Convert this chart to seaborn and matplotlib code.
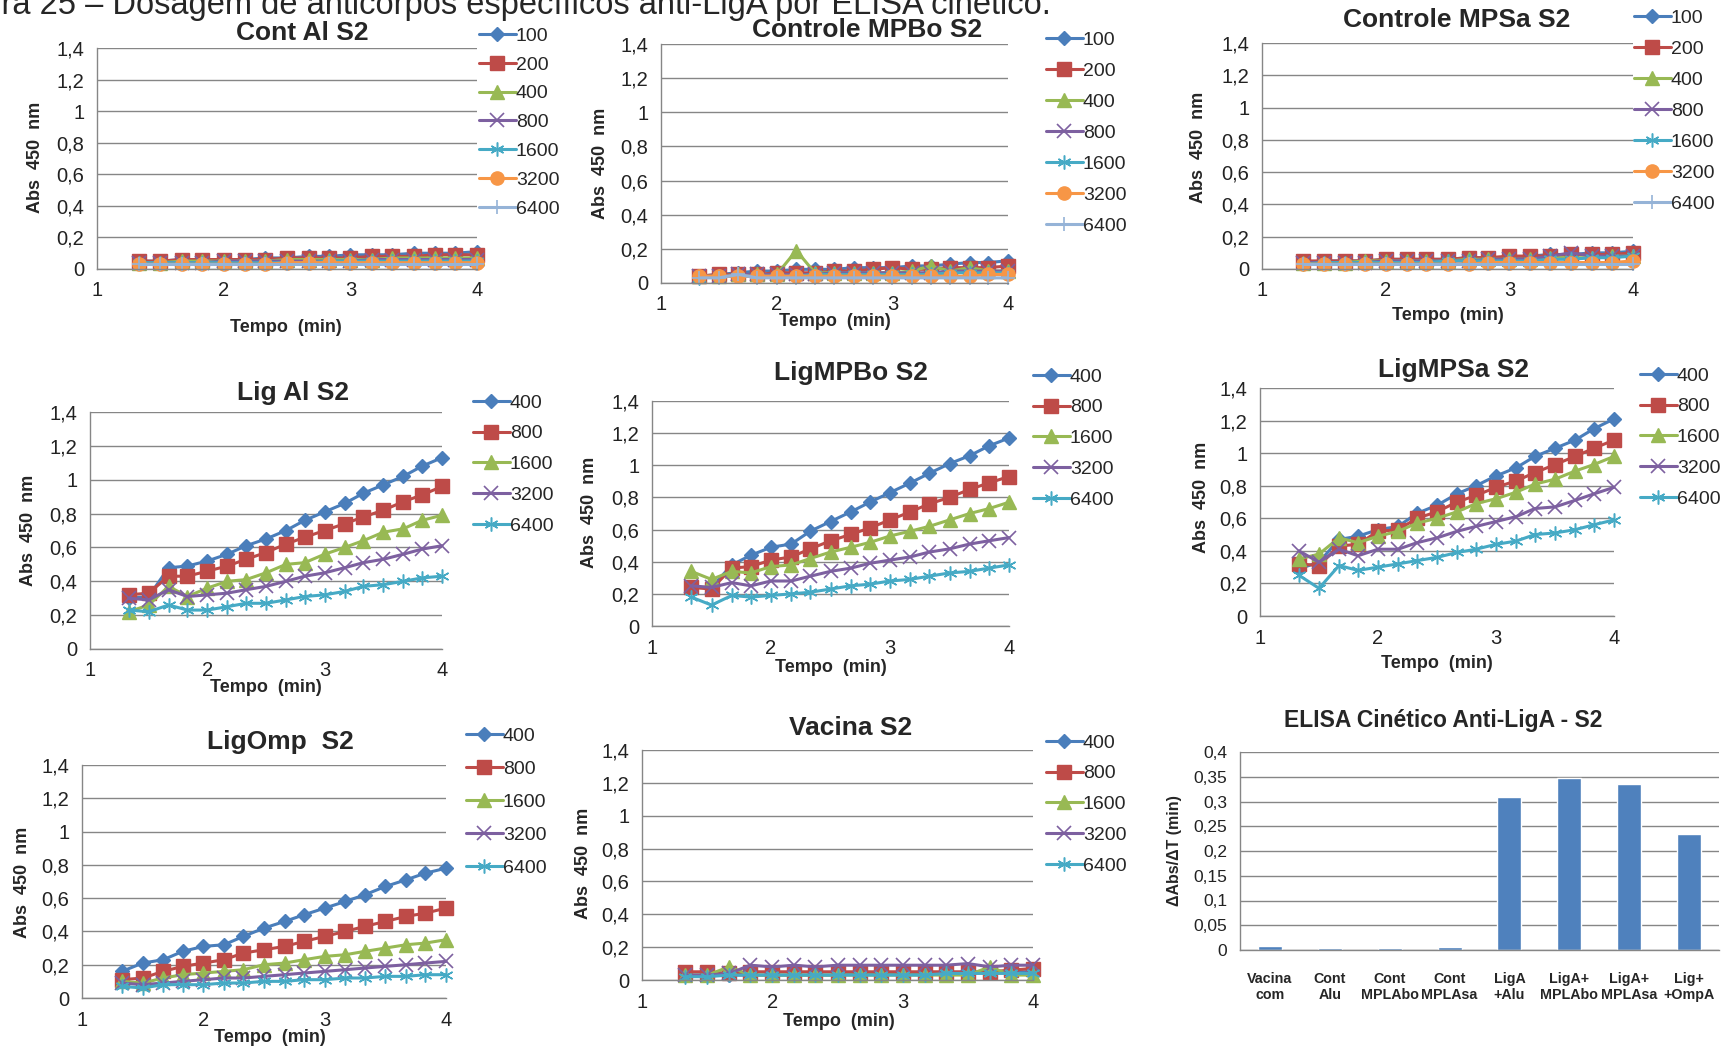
import matplotlib
matplotlib.use("Agg")
import matplotlib.pyplot as plt
import seaborn as sns

# ---------------- data ----------------
time_min = [1.33, 1.5, 1.67, 1.83, 2.0, 2.17, 2.33, 2.5, 2.67, 2.83, 3.0, 3.17, 3.33, 3.5, 3.67, 3.83, 4.0]

cont_dilutions = ["100", "200", "400", "800", "1600", "3200", "6400"]
lig_dilutions = ["400", "800", "1600", "3200", "6400"]

# Cont Al S2
contal_100 = [0.05, 0.05, 0.06, 0.06, 0.06, 0.06, 0.07, 0.07, 0.08, 0.08, 0.09, 0.09, 0.09, 0.10, 0.10, 0.10, 0.11]
contal_200 = [0.05, 0.05, 0.06, 0.06, 0.06, 0.06, 0.06, 0.07, 0.07, 0.07, 0.07, 0.08, 0.08, 0.08, 0.09, 0.09, 0.09]
contal_400 = [0.04, 0.04, 0.05, 0.05, 0.05, 0.05, 0.05, 0.06, 0.06, 0.06, 0.06, 0.06, 0.07, 0.07, 0.07, 0.07, 0.07]
contal_800 = [0.04, 0.04, 0.04, 0.04, 0.05, 0.05, 0.05, 0.05, 0.05, 0.05, 0.05, 0.06, 0.06, 0.06, 0.06, 0.06, 0.06]
contal_1600 = [0.04, 0.04, 0.04, 0.04, 0.04, 0.04, 0.04, 0.04, 0.04, 0.05, 0.05, 0.05, 0.05, 0.05, 0.05, 0.05, 0.05]
contal_3200 = [0.03, 0.03, 0.03, 0.03, 0.03, 0.03, 0.03, 0.04, 0.04, 0.04, 0.04, 0.04, 0.04, 0.04, 0.04, 0.04, 0.04]
contal_6400 = [0.03, 0.03, 0.03, 0.03, 0.03, 0.03, 0.03, 0.03, 0.03, 0.03, 0.03, 0.03, 0.03, 0.03, 0.03, 0.03, 0.03]

# Controle MPBo S2
mpbo_100 = [0.04, 0.05, 0.06, 0.07, 0.07, 0.08, 0.08, 0.08, 0.09, 0.09, 0.09, 0.10, 0.10, 0.11, 0.12, 0.12, 0.13]
mpbo_200 = [0.04, 0.05, 0.05, 0.05, 0.06, 0.06, 0.06, 0.07, 0.07, 0.08, 0.09, 0.08, 0.08, 0.09, 0.09, 0.09, 0.10]
mpbo_400 = [0.04, 0.04, 0.05, 0.05, 0.05, 0.19, 0.06, 0.06, 0.06, 0.06, 0.06, 0.07, 0.10, 0.07, 0.09, 0.07, 0.07]
mpbo_800 = [0.04, 0.04, 0.05, 0.05, 0.05, 0.05, 0.05, 0.06, 0.06, 0.06, 0.06, 0.06, 0.06, 0.07, 0.07, 0.07, 0.07]
mpbo_1600 = [0.03, 0.04, 0.04, 0.04, 0.04, 0.04, 0.05, 0.05, 0.05, 0.05, 0.05, 0.05, 0.05, 0.06, 0.06, 0.06, 0.06]
mpbo_3200 = [0.04, 0.04, 0.04, 0.04, 0.04, 0.04, 0.04, 0.04, 0.04, 0.04, 0.04, 0.04, 0.04, 0.04, 0.04, 0.05, 0.05]
mpbo_6400 = [0.03, 0.03, 0.05, 0.03, 0.03, 0.03, 0.03, 0.03, 0.03, 0.03, 0.03, 0.03, 0.03, 0.03, 0.03, 0.03, 0.03]

# Controle MPSa S2
mpsa_100 = [0.04, 0.05, 0.05, 0.05, 0.06, 0.06, 0.06, 0.06, 0.07, 0.07, 0.07, 0.08, 0.09, 0.09, 0.10, 0.10, 0.11]
mpsa_200 = [0.05, 0.05, 0.05, 0.05, 0.06, 0.06, 0.06, 0.06, 0.07, 0.07, 0.08, 0.08, 0.08, 0.09, 0.09, 0.09, 0.10]
mpsa_400 = [0.04, 0.04, 0.04, 0.05, 0.05, 0.05, 0.05, 0.05, 0.06, 0.06, 0.06, 0.06, 0.07, 0.07, 0.07, 0.08, 0.08]
mpsa_800 = [0.04, 0.04, 0.04, 0.04, 0.05, 0.05, 0.05, 0.05, 0.05, 0.06, 0.06, 0.06, 0.08, 0.10, 0.08, 0.08, 0.08]
mpsa_1600 = [0.03, 0.04, 0.04, 0.04, 0.04, 0.04, 0.04, 0.05, 0.05, 0.05, 0.05, 0.05, 0.06, 0.06, 0.07, 0.07, 0.08]
mpsa_3200 = [0.03, 0.03, 0.03, 0.03, 0.03, 0.03, 0.03, 0.03, 0.03, 0.04, 0.04, 0.04, 0.04, 0.04, 0.04, 0.04, 0.05]
mpsa_6400 = [0.03, 0.03, 0.03, 0.03, 0.03, 0.03, 0.03, 0.03, 0.03, 0.03, 0.03, 0.03, 0.03, 0.03, 0.03, 0.03, 0.03]

# Lig Al S2
ligal_400 = [0.30, 0.31, 0.48, 0.49, 0.52, 0.56, 0.61, 0.65, 0.70, 0.76, 0.81, 0.86, 0.92, 0.97, 1.02, 1.08, 1.13]
ligal_800 = [0.32, 0.33, 0.43, 0.43, 0.46, 0.49, 0.53, 0.57, 0.62, 0.66, 0.70, 0.74, 0.78, 0.82, 0.87, 0.91, 0.96]
ligal_1600 = [0.22, 0.26, 0.37, 0.31, 0.36, 0.40, 0.41, 0.45, 0.50, 0.51, 0.56, 0.60, 0.64, 0.69, 0.71, 0.76, 0.79]
ligal_3200 = [0.30, 0.29, 0.35, 0.31, 0.32, 0.33, 0.35, 0.37, 0.40, 0.43, 0.45, 0.48, 0.51, 0.53, 0.56, 0.59, 0.61]
ligal_6400 = [0.23, 0.22, 0.26, 0.23, 0.23, 0.25, 0.27, 0.27, 0.29, 0.31, 0.32, 0.34, 0.37, 0.38, 0.40, 0.42, 0.43]

# LigMPBo S2
ligmpbo_400 = [0.24, 0.24, 0.38, 0.44, 0.49, 0.51, 0.59, 0.65, 0.71, 0.77, 0.83, 0.89, 0.95, 1.01, 1.06, 1.12, 1.17]
ligmpbo_800 = [0.24, 0.23, 0.36, 0.37, 0.41, 0.43, 0.48, 0.53, 0.57, 0.61, 0.66, 0.71, 0.76, 0.80, 0.85, 0.89, 0.93]
ligmpbo_1600 = [0.34, 0.29, 0.34, 0.33, 0.37, 0.38, 0.42, 0.46, 0.49, 0.52, 0.56, 0.59, 0.62, 0.66, 0.70, 0.73, 0.77]
ligmpbo_3200 = [0.25, 0.24, 0.27, 0.25, 0.28, 0.28, 0.31, 0.34, 0.36, 0.39, 0.41, 0.43, 0.46, 0.48, 0.51, 0.53, 0.55]
ligmpbo_6400 = [0.18, 0.13, 0.19, 0.18, 0.19, 0.20, 0.21, 0.23, 0.25, 0.26, 0.28, 0.29, 0.31, 0.33, 0.34, 0.36, 0.38]

# LigMPSa S2
ligmpsa_400 = [0.29, 0.33, 0.47, 0.49, 0.53, 0.55, 0.63, 0.68, 0.75, 0.80, 0.86, 0.91, 0.98, 1.03, 1.08, 1.15, 1.21]
ligmpsa_800 = [0.32, 0.31, 0.43, 0.44, 0.52, 0.53, 0.60, 0.64, 0.70, 0.74, 0.79, 0.83, 0.88, 0.93, 0.98, 1.03, 1.08]
ligmpsa_1600 = [0.35, 0.38, 0.48, 0.45, 0.49, 0.52, 0.57, 0.60, 0.64, 0.69, 0.72, 0.76, 0.81, 0.84, 0.89, 0.93, 0.98]
ligmpsa_3200 = [0.40, 0.33, 0.41, 0.37, 0.41, 0.41, 0.45, 0.48, 0.52, 0.55, 0.58, 0.61, 0.66, 0.67, 0.71, 0.75, 0.79]
ligmpsa_6400 = [0.25, 0.17, 0.31, 0.28, 0.30, 0.32, 0.34, 0.36, 0.39, 0.41, 0.44, 0.46, 0.50, 0.51, 0.53, 0.56, 0.59]

# LigOmp S2
ligomp_400 = [0.16, 0.21, 0.23, 0.28, 0.31, 0.32, 0.37, 0.42, 0.46, 0.50, 0.54, 0.58, 0.62, 0.67, 0.71, 0.75, 0.78]
ligomp_800 = [0.11, 0.12, 0.16, 0.19, 0.21, 0.23, 0.27, 0.29, 0.31, 0.34, 0.37, 0.40, 0.43, 0.46, 0.49, 0.51, 0.54]
ligomp_1600 = [0.10, 0.09, 0.12, 0.14, 0.15, 0.16, 0.17, 0.20, 0.21, 0.23, 0.25, 0.26, 0.28, 0.30, 0.32, 0.33, 0.35]
ligomp_3200 = [0.09, 0.08, 0.09, 0.10, 0.11, 0.12, 0.12, 0.13, 0.14, 0.15, 0.16, 0.17, 0.18, 0.19, 0.20, 0.21, 0.22]
ligomp_6400 = [0.07, 0.06, 0.08, 0.08, 0.08, 0.09, 0.09, 0.10, 0.10, 0.11, 0.11, 0.12, 0.12, 0.13, 0.13, 0.14, 0.14]

# Vacina S2
vacina_400 = [0.03, 0.03, 0.03, 0.03, 0.03, 0.03, 0.03, 0.03, 0.04, 0.04, 0.04, 0.04, 0.04, 0.04, 0.05, 0.05, 0.05]
vacina_800 = [0.05, 0.05, 0.04, 0.05, 0.05, 0.05, 0.05, 0.05, 0.05, 0.05, 0.05, 0.05, 0.05, 0.05, 0.05, 0.06, 0.07]
vacina_1600 = [0.03, 0.03, 0.08, 0.03, 0.03, 0.03, 0.03, 0.03, 0.03, 0.03, 0.03, 0.03, 0.03, 0.03, 0.08, 0.03, 0.03]
vacina_3200 = [0.03, 0.03, 0.04, 0.09, 0.08, 0.09, 0.08, 0.09, 0.09, 0.09, 0.09, 0.09, 0.09, 0.10, 0.08, 0.09, 0.09]
vacina_6400 = [0.02, 0.02, 0.03, 0.03, 0.03, 0.03, 0.03, 0.03, 0.03, 0.03, 0.03, 0.03, 0.04, 0.04, 0.04, 0.04, 0.04]

# ELISA bar chart
bar_groups = ["Vacina\ncom", "Cont\nAlu", "Cont\nMPLAbo", "Cont\nMPLAsa",
              "LigA\n+Alu", "LigA+\nMPLAbo", "LigA+\nMPLAsa", "Lig+\n+OmpA"]
bar_values = [0.009, 0.005, 0.005, 0.007, 0.309, 0.347, 0.335, 0.235]

y_ticks = [0, 0.2, 0.4, 0.6, 0.8, 1.0, 1.2, 1.4]
y_ticklabels = ["0", "0,2", "0,4", "0,6", "0,8", "1", "1,2", "1,4"]
bar_yticks = [0, 0.05, 0.1, 0.15, 0.2, 0.25, 0.3, 0.35, 0.4]
bar_yticklabels = ["0", "0,05", "0,1", "0,15", "0,2", "0,25", "0,3", "0,35", "0,4"]

# ---------------- style ----------------
sns.set_style("white")
plt.rcParams["font.family"] = ["Liberation Sans", "DejaVu Sans"]

W, H = 1724, 1046
fig = plt.figure(figsize=(W / 100, H / 100), dpi=100)
fig.patch.set_facecolor("white")

GRAY = "#868686"
STYLES = [
    dict(c="#4A7EBB", m="D", ms=7.0, mew=1.0),
    dict(c="#BE4B48", m="s", ms=10.5, mew=1.0),
    dict(c="#98B954", m="^", ms=9.5, mew=1.0),
    dict(c="#7D60A0", m="x", ms=9.5, mew=1.2),
    dict(c="#46AAC5", m=(6, 2, 0), ms=10.0, mew=1.1),
    dict(c="#F79646", m="o", ms=9.5, mew=1.0),
    dict(c="#95B3D7", m="+", ms=10.0, mew=1.2),
]


def fx(x):
    return x / W


def fy(y):
    return 1 - y / H


def rect(l, r, t, b):
    return [l / W, 1 - b / H, (r - l) / W, (b - t) / H]


def style_axes(ax):
    for s in ["top", "right"]:
        ax.spines[s].set_visible(False)
    for s in ["left", "bottom"]:
        ax.spines[s].set_color(GRAY)
        ax.spines[s].set_linewidth(1.0)
    ax.set_axisbelow(True)
    ax.yaxis.grid(True, color=GRAY, linewidth=1.0)
    ax.xaxis.grid(False)


def line_panel(box, title, title_xy, series, labels, leg_xy, leg_space,
               ylab_xy, xlab_xy):
    ax = fig.add_axes(rect(*box))
    for vals, lab, st in zip(series, labels, STYLES):
        sns.lineplot(x=time_min, y=vals, ax=ax, color=st["c"], marker=st["m"],
                     markersize=st["ms"], markeredgewidth=st["mew"],
                     markeredgecolor=st["c"], markerfacecolor=st["c"],
                     linewidth=2.2, label=lab, clip_on=False)
    ax.set_xlim(1, 4)
    ax.set_ylim(0, 1.4)
    ax.set_xticks([1, 2, 3, 4])
    ax.set_xticklabels(["1", "2", "3", "4"])
    ax.set_yticks(y_ticks)
    ax.set_yticklabels(y_ticklabels)
    ax.tick_params(axis="both", direction="out", length=5, color=GRAY,
                   labelsize=14.5, labelcolor="#222222", pad=4, width=1)
    ax.set_xlabel("")
    ax.set_ylabel("")
    style_axes(ax)
    handles, labs = ax.get_legend_handles_labels()
    ax.legend(handles, labs, loc="upper left",
              bbox_to_anchor=(fx(leg_xy[0]), fy(leg_xy[1])),
              bbox_transform=fig.transFigure, frameon=False,
              borderaxespad=0, borderpad=0, handlelength=1.9,
              handletextpad=0.0, labelspacing=leg_space, fontsize=14)
    fig.text(fx(title_xy[0]), fy(title_xy[1]), title, ha="center", va="center",
             fontsize=19, fontweight="bold")
    fig.text(fx(ylab_xy[0]), fy(ylab_xy[1]), "Abs  450  nm", ha="center",
             va="center", rotation=90, fontsize=13, fontweight="bold")
    fig.text(fx(xlab_xy[0]), fy(xlab_xy[1]), "Tempo  (min)", ha="center",
             va="center", fontsize=13, fontweight="bold")
    return ax


# header (partially cut at the top of the page, as in the source)
fig.text(fx(-62), fy(14), "Figura 25 – Dosagem de anticorpos específicos anti-LigA por ELISA cinético.",
         ha="left", va="baseline", fontsize=23.5)

# Row 1
line_panel((97, 477, 48, 269), "Cont Al S2", (302, 33),
           [contal_100, contal_200, contal_400, contal_800, contal_1600, contal_3200, contal_6400],
           cont_dilutions, (479, 27), 0.58, (36, 157), (286, 328))
line_panel((661, 1008, 44, 283), "Controle MPBo S2", (867, 30),
           [mpbo_100, mpbo_200, mpbo_400, mpbo_800, mpbo_1600, mpbo_3200, mpbo_6400],
           cont_dilutions, (1046, 31), 0.69, (601, 163), (835, 322))
line_panel((1262, 1633, 43, 269), "Controle MPSa S2", (1457, 20),
           [mpsa_100, mpsa_200, mpsa_400, mpsa_800, mpsa_1600, mpsa_3200, mpsa_6400],
           cont_dilutions, (1634, 9.5), 0.69, (1199, 147), (1448, 315))

# Row 2
line_panel((90, 442, 412, 649), "Lig Al S2", (293, 393),
           [ligal_400, ligal_800, ligal_1600, ligal_3200, ligal_6400],
           lig_dilutions, (473, 394), 0.68, (29, 530), (266, 688))
line_panel((652, 1009, 401, 626), "LigMPBo S2", (851, 373),
           [ligmpbo_400, ligmpbo_800, ligmpbo_1600, ligmpbo_3200, ligmpbo_6400],
           lig_dilutions, (1033, 368), 0.68, (590, 512), (831, 668))
line_panel((1260, 1614, 388, 616), "LigMPSa S2", (1454, 370),
           [ligmpsa_400, ligmpsa_800, ligmpsa_1600, ligmpsa_3200, ligmpsa_6400],
           lig_dilutions, (1640, 367), 0.68, (1202, 497), (1437, 663))

# Row 3
line_panel((82, 446, 765, 998), "LigOmp  S2", (280, 742),
           [ligomp_400, ligomp_800, ligomp_1600, ligomp_3200, ligomp_6400],
           lig_dilutions, (466, 727), 0.8, (23, 882), (270, 1037))
line_panel((642, 1033, 750, 980), "Vacina S2", (851, 728),
           [vacina_400, vacina_800, vacina_1600, vacina_3200, vacina_6400],
           lig_dilutions, (1046, 734), 0.68, (583, 863), (839, 1022))

# Bar chart
axb = fig.add_axes(rect(1240, 1719, 752, 950))
sns.barplot(x=bar_groups, y=bar_values, color="#4F81BD", saturation=1,
            width=0.4, ax=axb)
axb.set_xlim(-0.5, 7.5)
axb.set_ylim(0, 0.4)
axb.set_yticks(bar_yticks)
axb.set_yticklabels(bar_yticklabels)
axb.set_xticks(range(len(bar_groups)))
axb.set_xticklabels(bar_groups, fontweight="bold", fontsize=10.3, linespacing=1.15)
axb.set_xticks([i - 0.5 for i in range(len(bar_groups) + 1)], minor=True)
axb.tick_params(axis="x", which="major", length=0, pad=16)
axb.tick_params(axis="x", which="minor", length=5, color=GRAY, direction="out")
axb.tick_params(axis="y", length=5, color=GRAY, direction="out",
                labelsize=12.5, labelcolor="#222222", pad=4)
axb.set_xlabel("")
axb.set_ylabel("")
style_axes(axb)
fig.text(fx(1443), fy(721), "ELISA Cinético Anti-LigA - S2", ha="center",
         va="center", fontsize=16.5, fontweight="bold")
fig.text(fx(1175), fy(851), "ΔAbs/ΔT (min)", ha="center", va="center",
         rotation=90, fontsize=11.5, fontweight="bold")

fig.savefig("out.png", dpi=100, facecolor="white")
